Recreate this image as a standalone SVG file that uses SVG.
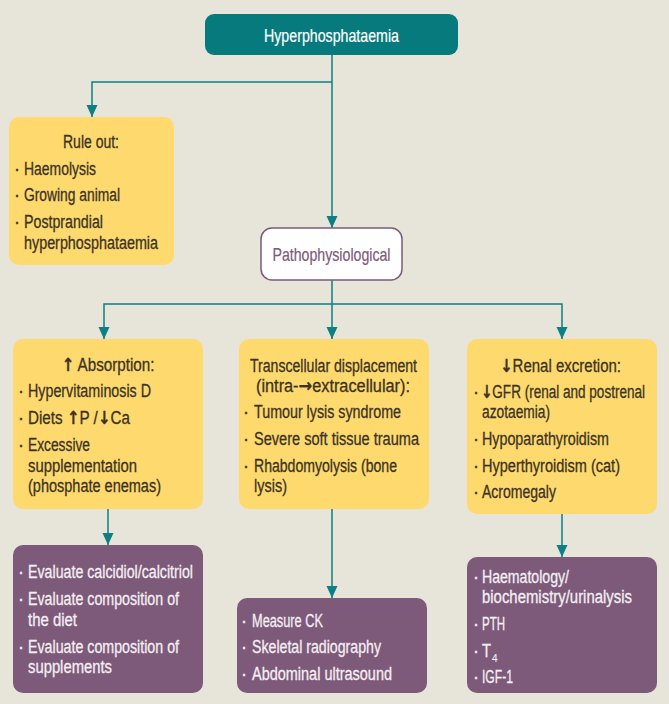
<svg xmlns="http://www.w3.org/2000/svg" width="669" height="704" viewBox="0 0 669 704">
<style>
.bg{fill:#E7E4D9}
.top{fill:#077A7E}
.y{fill:#FED96D}
.p{fill:#7E5A7A}
.ph{fill:#FFFFFF;stroke:#7E5A7A;stroke-width:1.5}
text{font-family:"Liberation Sans",Arial,sans-serif;font-size:18px;fill:#3B3325;stroke:#3B3325;stroke-width:0.3}
.w{fill:#F4EFF3;stroke:#F4EFF3}
.tw{fill:#FFFFFF;stroke:#FFFFFF;stroke-width:0.2;font-size:19px}
.pt{fill:#7E5A7A;stroke:#7E5A7A;stroke-width:0.2}
.c{text-anchor:middle}
.b{text-anchor:middle}
.sub{font-size:10px;stroke-width:0.1}
.conn{stroke:#0E7F82;stroke-width:1.5;fill:none}
.ar{font-family:"DejaVu Sans",sans-serif;font-weight:bold}
</style>
<defs>
<marker id="ah" markerUnits="userSpaceOnUse" markerWidth="12" markerHeight="12" viewBox="0 0 12 12" refX="12" refY="6" orient="auto">
<path d="M0,0.5 L12,6 L0,11.5 z" fill="#0E7F82"/>
</marker>
</defs>
<rect class="bg" x="0" y="0" width="669" height="704"/>

<g id="connectors">
<path class="conn" d="M332,55 V228" marker-end="url(#ah)"/>
<path class="conn" d="M332,82 H92 V117" marker-end="url(#ah)"/>
<path class="conn" d="M332,280 V339" marker-end="url(#ah)"/>
<path class="conn" d="M332,304 H104 V339" marker-end="url(#ah)"/>
<path class="conn" d="M332,304 H562 V339" marker-end="url(#ah)"/>
<path class="conn" d="M108,509 V545" marker-end="url(#ah)"/>
<path class="conn" d="M332,509 V598" marker-end="url(#ah)"/>
<path class="conn" d="M562,514 V557" marker-end="url(#ah)"/>
</g>

<g id="hyperphosphataemia">
<rect class="top" x="205" y="14" width="253" height="41" rx="9"/>
<text class="c tw" x="331.5" y="42" textLength="135" lengthAdjust="spacingAndGlyphs">Hyperphosphataemia</text>
</g>

<g id="rule-out">
<rect class="y" x="9" y="117" width="165" height="148" rx="10"/>
<text class="c" x="91" y="148" textLength="56" lengthAdjust="spacingAndGlyphs">Rule out:</text>
<text class="b" x="17" y="175">·</text><text x="24" y="175" textLength="72" lengthAdjust="spacingAndGlyphs">Haemolysis</text>
<text class="b" x="17" y="201">·</text><text x="24" y="201" textLength="96" lengthAdjust="spacingAndGlyphs">Growing animal</text>
<text class="b" x="17" y="228">·</text><text x="24" y="228" textLength="79" lengthAdjust="spacingAndGlyphs">Postprandial</text>
<text x="24" y="249" textLength="134" lengthAdjust="spacingAndGlyphs">hyperphosphataemia</text>
</g>

<g id="pathophysiological">
<rect class="ph" x="261" y="228" width="141" height="52" rx="11"/>
<text class="c pt" x="331.5" y="261" textLength="118" lengthAdjust="spacingAndGlyphs">Pathophysiological</text>
</g>

<g id="absorption">
<rect class="y" x="13" y="339" width="190" height="170" rx="10"/>
<text class="c" x="108" y="371" textLength="93" lengthAdjust="spacingAndGlyphs"><tspan class="ar">↑</tspan> Absorption:</text>
<text class="b" x="21" y="397">·</text><text x="28" y="397" textLength="123" lengthAdjust="spacingAndGlyphs">Hypervitaminosis D</text>
<text class="b" x="21" y="424">·</text><text x="28" y="424" textLength="102" lengthAdjust="spacingAndGlyphs">Diets <tspan class="ar">↑</tspan>P /<tspan class="ar">↓</tspan>Ca</text>
<text class="b" x="21" y="451">·</text><text x="28" y="451" textLength="62" lengthAdjust="spacingAndGlyphs">Excessive</text>
<text x="28" y="472" textLength="109" lengthAdjust="spacingAndGlyphs">supplementation</text>
<text x="28" y="492" textLength="133" lengthAdjust="spacingAndGlyphs">(phosphate enemas)</text>
</g>

<g id="transcellular">
<rect class="y" x="239" y="339" width="190" height="170" rx="10"/>
<text class="c" x="333.5" y="372" textLength="167" lengthAdjust="spacingAndGlyphs">Transcellular displacement</text>
<text class="c" x="333" y="392" textLength="154" lengthAdjust="spacingAndGlyphs">(intra-<tspan class="ar">→</tspan>extracellular):</text>
<text class="b" x="246" y="418">·</text><text x="254" y="418" textLength="147" lengthAdjust="spacingAndGlyphs">Tumour lysis syndrome</text>
<text class="b" x="246" y="445">·</text><text x="254" y="445" textLength="165" lengthAdjust="spacingAndGlyphs">Severe soft tissue trauma</text>
<text class="b" x="246" y="472">·</text><text x="254" y="472" textLength="143" lengthAdjust="spacingAndGlyphs">Rhabdomyolysis (bone</text>
<text x="254" y="492" textLength="33" lengthAdjust="spacingAndGlyphs">lysis)</text>
</g>

<g id="renal-excretion">
<rect class="y" x="467" y="339" width="190" height="175" rx="10"/>
<text class="c" x="560.5" y="372" textLength="121" lengthAdjust="spacingAndGlyphs"><tspan class="ar">↓</tspan>Renal excretion:</text>
<text class="b" x="476" y="398">·</text><text x="481" y="398" textLength="164" lengthAdjust="spacingAndGlyphs"><tspan class="ar">↓</tspan>GFR (renal and postrenal</text>
<text x="482" y="418" textLength="68" lengthAdjust="spacingAndGlyphs">azotaemia)</text>
<text class="b" x="476" y="445">·</text><text x="482" y="445" textLength="127" lengthAdjust="spacingAndGlyphs">Hypoparathyroidism</text>
<text class="b" x="476" y="472">·</text><text x="482" y="472" textLength="138" lengthAdjust="spacingAndGlyphs">Hyperthyroidism (cat)</text>
<text class="b" x="476" y="498">·</text><text x="482" y="498" textLength="74" lengthAdjust="spacingAndGlyphs">Acromegaly</text>
</g>

<g id="evaluate">
<rect class="p" x="13" y="545" width="190" height="148" rx="10"/>
<text class="b w" x="21" y="578">·</text><text class="w" x="28" y="578" textLength="165" lengthAdjust="spacingAndGlyphs">Evaluate calcidiol/calcitriol</text>
<text class="b w" x="21" y="605">·</text><text class="w" x="28" y="605" textLength="151" lengthAdjust="spacingAndGlyphs">Evaluate composition of</text>
<text class="w" x="28" y="626" textLength="49" lengthAdjust="spacingAndGlyphs">the diet</text>
<text class="b w" x="21" y="653">·</text><text class="w" x="28" y="653" textLength="151" lengthAdjust="spacingAndGlyphs">Evaluate composition of</text>
<text class="w" x="28" y="673" textLength="84" lengthAdjust="spacingAndGlyphs">supplements</text>
</g>

<g id="measure">
<rect class="p" x="237" y="598" width="190" height="95" rx="10"/>
<text class="b w" x="244" y="627">·</text><text class="w" x="252" y="627" textLength="71" lengthAdjust="spacingAndGlyphs">Measure CK</text>
<text class="b w" x="244" y="653">·</text><text class="w" x="252" y="653" textLength="129" lengthAdjust="spacingAndGlyphs">Skeletal radiography</text>
<text class="b w" x="244" y="680">·</text><text class="w" x="252" y="680" textLength="140" lengthAdjust="spacingAndGlyphs">Abdominal ultrasound</text>
</g>

<g id="tests">
<rect class="p" x="467" y="557" width="190" height="136" rx="10"/>
<text class="b w" x="476" y="583">·</text><text class="w" x="482" y="583" textLength="87" lengthAdjust="spacingAndGlyphs">Haematology/</text>
<text class="w" x="482" y="603" textLength="150" lengthAdjust="spacingAndGlyphs">biochemistry/urinalysis</text>
<text class="b w" x="476" y="630">·</text><text class="w" x="482" y="630" textLength="23" lengthAdjust="spacingAndGlyphs">PTH</text>
<text class="b w" x="476" y="657">·</text><text class="w" x="482" y="657" textLength="9" lengthAdjust="spacingAndGlyphs">T</text><text class="w sub" x="492" y="662">4</text>
<text class="b w" x="476" y="683">·</text><text class="w" x="482" y="683" textLength="31" lengthAdjust="spacingAndGlyphs">IGF-1</text>
</g>
</svg>
